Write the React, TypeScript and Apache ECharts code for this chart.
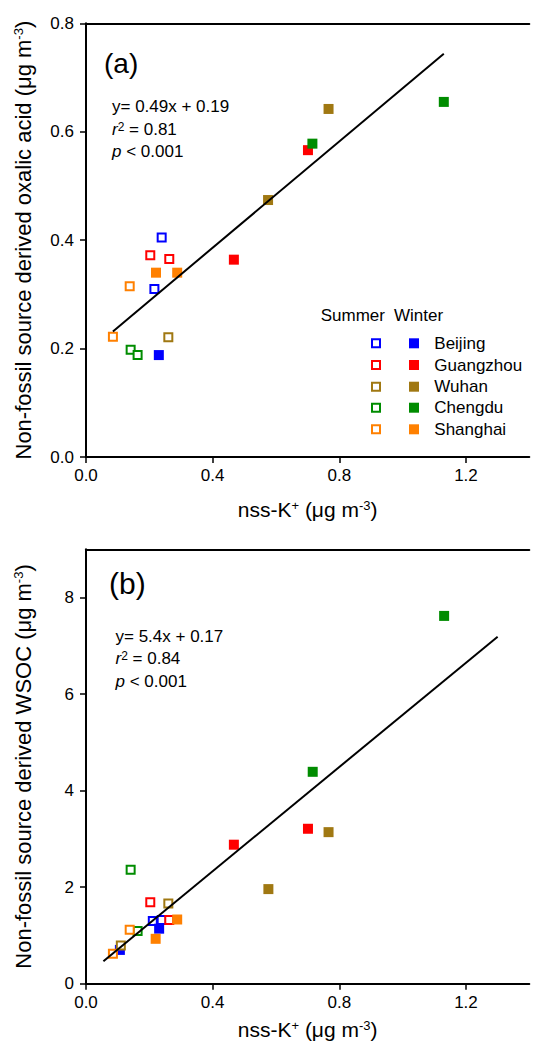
import React, { useEffect, useRef } from 'react';
import * as echarts from 'echarts';

const FONT = "'Liberation Sans', Arial, Helvetica, sans-serif";

const cities = ['Beijing', 'Guangzhou', 'Wuhan', 'Chengdu', 'Shanghai'];
const cityColors = ['#0000FF', '#FF0000', '#A07812', '#008C00', '#FF8000'];

const xTicks = [0, 0.4, 0.8, 1.2];
const yTicksA = [0, 0.2, 0.4, 0.6, 0.8];
const yTicksB = [0, 2, 4, 6, 8];

// Panel (a): non-fossil oxalic acid vs nss-K+, [x, y] per city
const oxalicSummer: number[][][] = [
  [[0.239, 0.405], [0.216, 0.31]],
  [[0.203, 0.372], [0.263, 0.365]],
  [[0.26, 0.221]],
  [[0.141, 0.198], [0.163, 0.188]],
  [[0.138, 0.315], [0.085, 0.222]],
];
const oxalicWinter: number[][][] = [
  [[0.23, 0.188]],
  [[0.467, 0.364], [0.701, 0.566]],
  [[0.575, 0.474], [0.766, 0.642]],
  [[0.715, 0.578], [1.13, 0.655]],
  [[0.221, 0.34], [0.288, 0.34]],
];

// Panel (b): non-fossil WSOC vs nss-K+
const wsocSummer: number[][][] = [
  [[0.211, 1.3], [0.239, 1.32]],
  [[0.203, 1.69], [0.263, 1.32]],
  [[0.26, 1.66], [0.11, 0.79]],
  [[0.141, 2.36], [0.163, 1.09]],
  [[0.138, 1.12], [0.085, 0.62]],
];
const wsocWinter: number[][][] = [
  [[0.231, 1.14], [0.107, 0.7]],
  [[0.467, 2.88], [0.701, 3.21]],
  [[0.576, 1.96], [0.766, 3.14]],
  [[0.716, 4.39], [1.131, 7.62]],
  [[0.288, 1.33], [0.22, 0.93]],
];

// regression fits
const fitA = { slope: 0.49, intercept: 0.19, from: 0.085, to: 1.13 };
const fitB = { slope: 5.4, intercept: 0.17, from: 0.055, to: 1.3 };

const GRID_LEFT = 86;
const GRID_W = 443.3;

function fitLine(f: { slope: number; intercept: number; from: number; to: number }) {
  return [
    [f.from, f.slope * f.from + f.intercept],
    [f.to, f.slope * f.to + f.intercept],
  ];
}

const supRich = {
  sup: { fontSize: 13, fontFamily: FONT, color: '#000', verticalAlign: 'top' as const, lineHeight: 13 },
};

function buildOption() {
  const series: any[] = [];
  const panels = [
    { summer: oxalicSummer, winter: oxalicWinter, fit: fitA },
    { summer: wsocSummer, winter: wsocWinter, fit: fitB },
  ];
  panels.forEach((p, pi) => {
    cities.forEach((city, ci) => {
      series.push({
        type: 'scatter',
        name: city + ' summer',
        xAxisIndex: pi,
        yAxisIndex: pi,
        data: p.summer[ci],
        symbol: 'rect',
        symbolSize: 8,
        itemStyle: { color: '#fff', borderColor: cityColors[ci], borderWidth: 2, opacity: 1 },
        silent: true,
        z: 3,
      });
      series.push({
        type: 'scatter',
        name: city + ' winter',
        xAxisIndex: pi,
        yAxisIndex: pi,
        data: p.winter[ci],
        symbol: 'rect',
        symbolSize: 10,
        itemStyle: { color: cityColors[ci], opacity: 1 },
        silent: true,
        z: 3,
      });
    });
    series.push({
      type: 'line',
      xAxisIndex: pi,
      yAxisIndex: pi,
      data: fitLine(p.fit),
      symbol: 'none',
      lineStyle: { color: '#000', width: 2 },
      silent: true,
      z: 4,
    });
  });

  const axisBase = {
    type: 'value',
    axisLine: { show: true, onZero: false, lineStyle: { color: '#000', width: 2 } },
    splitLine: { show: false },
  };
  const xName = 'nss-K{sup|+} (μg m{sup|-3})';
  const nameStyle = { fontSize: 21, fontFamily: FONT, color: '#000', rich: supRich };

  const xAxes = [0, 1].map((gi) => ({
    ...axisBase,
    gridIndex: gi,
    min: 0,
    max: 1.4,
    interval: 0.4,
    axisTick: { show: true, length: 6, customValues: xTicks, lineStyle: { color: '#000', width: 1.5 } },
    axisLabel: {
      show: true,
      customValues: xTicks,
      margin: 10,
      fontSize: 17,
      fontFamily: FONT,
      color: '#000',
      formatter: (v: number) => v.toFixed(1),
    },
    name: xName,
    nameLocation: 'middle',
    nameGap: gi === 0 ? 42 : 35,
    nameTextStyle: nameStyle,
  }));
  const topAxes = [0, 1].map((gi) => ({
    ...axisBase,
    gridIndex: gi,
    position: 'top',
    min: 0,
    max: 1.4,
    axisTick: { show: false },
    axisLabel: { show: false },
  }));
  const yAxes = [
    {
      ...axisBase,
      gridIndex: 0,
      min: 0,
      max: 0.8,
      interval: 0.2,
      axisTick: { show: true, length: 6, customValues: yTicksA, lineStyle: { color: '#000', width: 1.5 } },
      axisLabel: {
        customValues: yTicksA,
        margin: 12,
        fontSize: 17,
        fontFamily: FONT,
        color: '#000',
        formatter: (v: number) => v.toFixed(1),
      },
      name: 'Non-fossil source derived oxalic acid (μg m{sup|-3})',
      nameLocation: 'middle',
      nameGap: 52,
      nameTextStyle: { ...nameStyle, fontSize: 22 },
    },
    {
      ...axisBase,
      gridIndex: 1,
      min: 0,
      max: 9,
      interval: 2,
      axisTick: { show: true, length: 6, customValues: yTicksB, lineStyle: { color: '#000', width: 1.5 } },
      axisLabel: {
        customValues: yTicksB,
        margin: 12,
        fontSize: 17,
        fontFamily: FONT,
        color: '#000',
        formatter: (v: number) => String(v),
      },
      name: 'Non-fossil source derived WSOC (μg m{sup|-3})',
      nameLocation: 'middle',
      nameGap: 52,
      nameTextStyle: { ...nameStyle, fontSize: 22 },
    },
  ];

  const txt = (x: number, y: number, text: string, fontSize = 17, extra: any = {}) => ({
    type: 'text',
    x,
    y,
    silent: true,
    style: {
      text,
      fontSize,
      fontFamily: FONT,
      fill: '#000',
      align: 'left',
      verticalAlign: 'middle',
      rich: {
        i: { fontSize, fontFamily: FONT, fontStyle: 'italic', fill: '#000' },
        s: { fontSize: 12, fontFamily: FONT, fill: '#000', verticalAlign: 'top', lineHeight: 12 },
        n: { fontSize, fontFamily: FONT, fill: '#000' },
      },
      ...extra,
    },
  });

  const graphic: any[] = [
    txt(104, 63, '(a)', 28),
    txt(112, 106.7, 'y= 0.49x + 0.19'),
    txt(112, 129.5, '{i|r}{s|2}{n| = 0.81}'),
    txt(112, 151.5, '{i|p}{n| < 0.001}'),
    txt(109, 583, '(b)', 30),
    txt(115.5, 636, 'y= 5.4x + 0.17'),
    txt(115.5, 658.5, '{i|r}{s|2}{n| = 0.84}'),
    txt(115.5, 681, '{i|p}{n| < 0.001}'),
    txt(320.7, 315, 'Summer', 17),
    txt(394, 315, 'Winter', 17),
  ];
  const legendRows = [343.3, 365, 386.7, 407.7, 429.3];
  cities.forEach((city, ci) => {
    const cy = legendRows[ci];
    graphic.push({
      type: 'rect',
      silent: true,
      shape: { x: 372, y: cy - 4, width: 8, height: 8 },
      style: { fill: '#fff', stroke: cityColors[ci], lineWidth: 2 },
    });
    graphic.push({
      type: 'rect',
      silent: true,
      shape: { x: 409, y: cy - 5, width: 10, height: 10 },
      style: { fill: cityColors[ci] },
    });
    graphic.push(txt(434.3, cy, city, 17));
  });

  return {
    animation: false,
    backgroundColor: '#fff',
    textStyle: { fontFamily: FONT },
    grid: [
      { left: GRID_LEFT, top: 23.3, width: GRID_W, height: 433.7 },
      { left: GRID_LEFT, top: 549.3, width: GRID_W, height: 434.4 },
    ],
    xAxis: [...xAxes, ...topAxes],
    yAxis: yAxes,
    series,
    graphic,
  };
}

export default function App() {
  const ref = useRef<HTMLDivElement>(null);
  useEffect(() => {
    const chart = echarts.init(ref.current!, null, { renderer: 'svg' });
    chart.setOption(buildOption() as any);
    return () => chart.dispose();
  }, []);
  return (
    <div
      ref={ref}
      style={{ position: 'absolute', left: 0, top: 0, width: 533, height: 1044 }}
    />
  );
}
